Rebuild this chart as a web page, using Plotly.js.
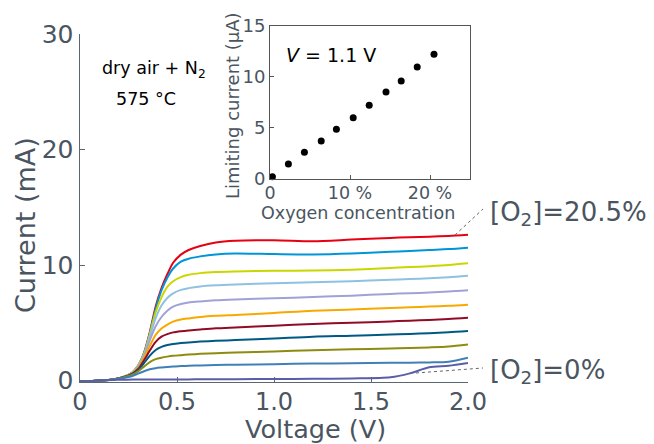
<!DOCTYPE html>
<html>
<head>
<meta charset="utf-8">
<script src="https://cdn.plot.ly/plotly-3.0.1.min.js"></script>
<style>html,body{margin:0;padding:0;background:#fff;}#chart{width:654px;height:444px;}</style>
</head>
<body>
<div id="chart"></div>
<script>
// Voltage (V)
const voltage = [0, 0.1, 0.17, 0.22, 0.27, 0.30, 0.33, 0.36, 0.39, 0.42, 0.45, 0.48, 0.52, 0.56, 0.62, 0.70, 0.80, 1.0, 1.2, 1.4, 1.6, 1.7, 1.8, 1.9, 2.0];
// Current (mA), from [O2]=20.5% down to 0%
const cur_red      = [-0.1, 0.0, 0.1, 0.3, 0.7, 1.3, 2.4, 4.2, 6.4, 8.0, 9.2, 10.2, 10.9, 11.3, 11.65, 11.95, 12.1, 12.15, 12.05, 12.2, 12.35, 12.4, 12.45, 12.52, 12.62];
const cur_blue     = [-0.1, 0.0, 0.1, 0.3, 0.7, 1.3, 2.35, 4.1, 6.2, 7.8, 8.9, 9.7, 10.3, 10.55, 10.75, 10.92, 11.0, 10.95, 10.92, 11.0, 11.15, 11.22, 11.3, 11.38, 11.5];
const cur_yellow   = [-0.1, 0.0, 0.1, 0.3, 0.7, 1.3, 2.3, 4.0, 5.9, 7.2, 8.1, 8.6, 8.95, 9.15, 9.3, 9.4, 9.45, 9.5, 9.52, 9.6, 9.75, 9.82, 9.9, 10.0, 10.15];
const cur_ltblue   = [-0.1, 0.0, 0.1, 0.3, 0.68, 1.25, 2.2, 3.8, 5.4, 6.5, 7.15, 7.55, 7.85, 8.0, 8.15, 8.25, 8.32, 8.42, 8.5, 8.6, 8.72, 8.78, 8.85, 8.95, 9.08];
const cur_lavender = [-0.1, 0.0, 0.1, 0.3, 0.65, 1.2, 2.1, 3.5, 4.7, 5.5, 6.05, 6.4, 6.62, 6.75, 6.85, 6.95, 7.02, 7.12, 7.23, 7.35, 7.5, 7.56, 7.62, 7.7, 7.81];
const cur_orange   = [-0.1, 0.0, 0.1, 0.28, 0.62, 1.1, 1.95, 3.0, 3.95, 4.5, 4.85, 5.1, 5.28, 5.38, 5.5, 5.6, 5.68, 5.85, 6.05, 6.15, 6.28, 6.34, 6.4, 6.47, 6.57];
const cur_darkred  = [-0.1, 0.0, 0.1, 0.27, 0.6, 1.0, 1.75, 2.6, 3.35, 3.8, 4.02, 4.17, 4.27, 4.34, 4.42, 4.52, 4.6, 4.75, 4.9, 5.0, 5.12, 5.18, 5.25, 5.33, 5.44];
const cur_teal     = [-0.1, 0.0, 0.1, 0.26, 0.55, 0.9, 1.5, 2.15, 2.65, 2.92, 3.07, 3.17, 3.24, 3.3, 3.37, 3.44, 3.5, 3.64, 3.8, 3.88, 3.98, 4.04, 4.1, 4.18, 4.29];
const cur_olive    = [-0.1, 0.0, 0.1, 0.25, 0.5, 0.8, 1.2, 1.6, 1.85, 1.98, 2.07, 2.14, 2.2, 2.25, 2.31, 2.37, 2.42, 2.52, 2.62, 2.7, 2.78, 2.82, 2.87, 2.95, 3.13];
const cur_steel    = [-0.1, 0.0, 0.1, 0.22, 0.4, 0.6, 0.8, 0.97, 1.07, 1.13, 1.18, 1.22, 1.25, 1.28, 1.31, 1.34, 1.37, 1.42, 1.47, 1.5, 1.53, 1.55, 1.57, 1.63, 1.98];
const cur_zero     = [-0.1, 0.0, 0.05, 0.07, 0.08, 0.08, 0.09, 0.09, 0.1, 0.1, 0.1, 0.1, 0.1, 0.1, 0.11, 0.11, 0.12, 0.13, 0.15, 0.18, 0.28, 0.62, 1.15, 1.28, 1.52];

const seriesList = [cur_red, cur_blue, cur_yellow, cur_ltblue, cur_lavender, cur_orange, cur_darkred, cur_teal, cur_olive, cur_steel, cur_zero];
const seriesColors = ['#e60012', '#0095d9', '#cbd600', '#8fc1e3', '#a0a2d6', '#f7a900', '#920a26', '#005885', '#8c8c10', '#3f80b6', '#5a5ea8'];

// Inset: limiting current at V = 1.1 V
const o2_conc = [0.3, 2.3, 4.3, 6.4, 8.3, 10.4, 12.4, 14.5, 16.4, 18.4, 20.5];
const lim_current = [0.22, 1.47, 2.61, 3.71, 4.86, 5.99, 7.2, 8.5, 9.58, 10.95, 12.19];

const xTickVals = [0, 0.5, 1.0, 1.5, 2.0];
const xTickText = ['0', '0.5', '1.0', '1.5', '2.0'];
const yTickVals = [0, 10, 20, 30];
const insetXTickVals = [0, 10, 20];
const insetXTickText = ['0', '10 %', '20 %'];
const insetYTickVals = [0, 5, 10, 15];

const W = 654, H = 444;
const px = v => v / W;
const py = v => 1 - v / H;

const axisCol = '#5b6670';
const textCol = '#4a5561';
const FONT = 'DejaVu Sans, Verdana, sans-serif';

const traces = seriesList.map((ys, i) => ({
  x: voltage, y: ys, type: 'scatter', mode: 'lines',
  line: {color: seriesColors[i], width: 2, shape: 'spline', smoothing: 0.8},
  xaxis: 'x', yaxis: 'y', hoverinfo: 'skip'
}));
traces.push({
  x: o2_conc, y: lim_current, type: 'scatter', mode: 'markers',
  marker: {color: '#000', size: 7}, cliponaxis: false,
  xaxis: 'x2', yaxis: 'y2', hoverinfo: 'skip'
});

const layout = {
  width: W, height: H,
  margin: {l: 0, r: 0, t: 0, b: 0},
  paper_bgcolor: '#fff', plot_bgcolor: 'rgba(0,0,0,0)',
  showlegend: false,
  font: {family: FONT, color: textCol},
  xaxis: {
    domain: [px(80), px(468)], range: [0, 2],
    showline: true, linecolor: axisCol, linewidth: 1.5,
    ticks: 'inside', ticklen: 5, tickcolor: axisCol, tickwidth: 1,
    tickvals: xTickVals, ticktext: xTickText, ticklabelstandoff: -2,
    tickfont: {size: 24, color: textCol, family: FONT},
    showgrid: false, zeroline: false, anchor: 'y', fixedrange: true
  },
  yaxis: {
    domain: [py(381.7), py(34)], range: [-0.1, 30],
    showline: true, linecolor: axisCol, linewidth: 1.5,
    ticks: 'inside', ticklen: 5, tickcolor: axisCol, tickwidth: 1,
    tickvals: yTickVals,
    tickfont: {size: 25, color: textCol, family: FONT},
    showgrid: false, zeroline: false, anchor: 'x', fixedrange: true
  },
  xaxis2: {
    domain: [px(270), px(470)], range: [0, 25],
    showline: true, mirror: true, linecolor: '#555', linewidth: 1,
    ticks: 'inside', ticklen: 4, tickcolor: '#555',
    tickvals: insetXTickVals, ticktext: insetXTickText, ticklabelstandoff: -2,
    tickfont: {size: 17.5, color: textCol, family: FONT},
    showgrid: false, zeroline: false, anchor: 'y2', fixedrange: true
  },
  yaxis2: {
    domain: [py(179), py(25.5)], range: [0, 15],
    showline: true, mirror: true, linecolor: '#555', linewidth: 1,
    ticks: 'inside', ticklen: 4, tickcolor: '#555',
    tickvals: insetYTickVals,
    tickfont: {size: 18, color: textCol, family: FONT},
    showgrid: false, zeroline: false, anchor: 'x2', fixedrange: true
  },
  shapes: [
    {type: 'rect', xref: 'paper', yref: 'paper', x0: px(270), x1: px(470), y0: py(179), y1: py(25.5),
     fillcolor: '#fff', line: {width: 0}, layer: 'below'},
    {type: 'line', xref: 'paper', yref: 'paper', x0: px(455), y0: py(235), x1: px(483), y1: py(209),
     line: {color: '#666', width: 1, dash: '3px,3px'}},
    {type: 'line', xref: 'paper', yref: 'paper', x0: px(416), y0: py(373), x1: px(483), y1: py(368),
     line: {color: '#666', width: 1, dash: '3px,3px'}}
  ],
  annotations: [
    {text: 'Current (mA)', xref: 'paper', yref: 'paper', x: px(25), y: py(225), textangle: -90,
     showarrow: false, xanchor: 'center', yanchor: 'middle', font: {size: 27, color: textCol, family: FONT}},
    {text: 'Voltage (V)', xref: 'paper', yref: 'paper', x: px(315), y: py(429), borderpad: 0,
     showarrow: false, xanchor: 'center', yanchor: 'middle', font: {size: 25.5, color: textCol, family: FONT}},
    {text: 'Limiting current (µA)', xref: 'paper', yref: 'paper', x: px(232), y: py(106), textangle: -90,
     showarrow: false, xanchor: 'center', yanchor: 'middle', font: {size: 18, color: textCol, family: FONT}},
    {text: 'Oxygen concentration', xref: 'paper', yref: 'paper', x: px(358), y: py(213.5), borderpad: 0,
     showarrow: false, xanchor: 'center', yanchor: 'middle', font: {size: 17.5, color: textCol, family: FONT}},
    {text: '<i>V</i> = 1.1 V', xref: 'paper', yref: 'paper', x: px(284), y: py(55),
     showarrow: false, xanchor: 'left', yanchor: 'middle', font: {size: 19, color: '#000', family: FONT}},
    {text: 'dry air + N<sub>2</sub>', xref: 'paper', yref: 'paper', x: px(100), y: py(70),
     showarrow: false, xanchor: 'left', yanchor: 'middle', font: {size: 17.5, color: '#000', family: FONT}},
    {text: '575 °C', xref: 'paper', yref: 'paper', x: px(114), y: py(99),
     showarrow: false, xanchor: 'left', yanchor: 'middle', font: {size: 17.5, color: '#000', family: FONT}},
    {text: '[O<sub>2</sub>]=20.5%', xref: 'paper', yref: 'paper', x: px(488), y: py(214),
     showarrow: false, xanchor: 'left', yanchor: 'middle', font: {size: 26, color: textCol, family: FONT}},
    {text: '[O<sub>2</sub>]=0%', xref: 'paper', yref: 'paper', x: px(488), y: py(371),
     showarrow: false, xanchor: 'left', yanchor: 'middle', font: {size: 26, color: textCol, family: FONT}}
  ]
};

Plotly.newPlot('chart', traces, layout, {staticPlot: true, displayModeBar: false});
</script>
</body>
</html>
